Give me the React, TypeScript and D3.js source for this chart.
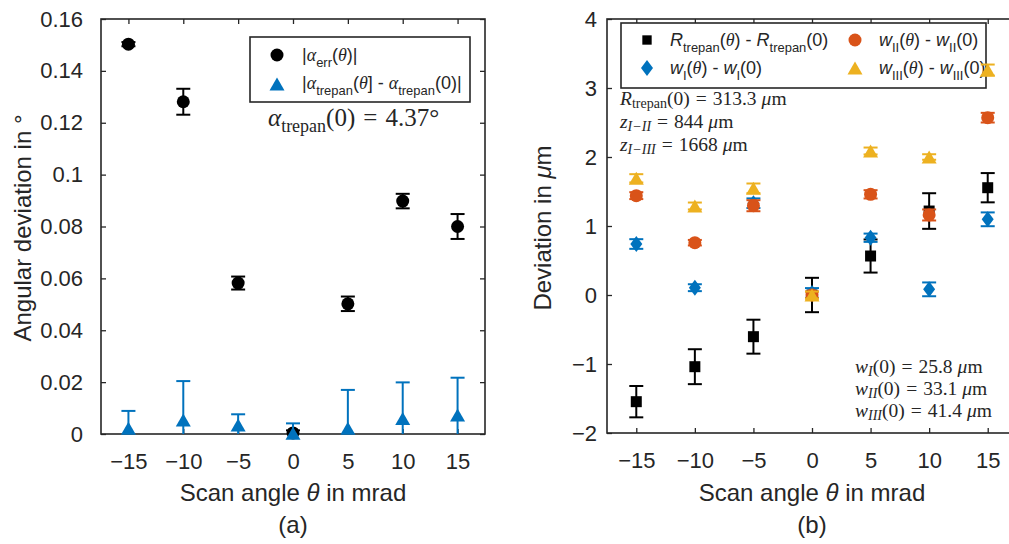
import React, { useEffect, useRef } from 'react';
import * as d3 from 'd3';

// shared x values (scan angle in mrad)
const scanAngles = [-15, -10, -5, 0, 5, 10, 15];
const xTickLabels = ['−15', '−10', '−5', '0', '5', '10', '15'];

// panel (a): angular deviation in degrees
const alphaErr = [0.1503, 0.1281, 0.0582, 0.0004, 0.0502, 0.0898, 0.08];
const alphaErrSd = [0.0008, 0.005, 0.0025, 0.001, 0.0028, 0.0028, 0.0048];
const alphaTrepan = [0.0022, 0.0054, 0.0035, 0.0003, 0.0022, 0.006, 0.0073];
const alphaTrepanSd = [0.0067, 0.015, 0.0041, 0.0038, 0.0148, 0.0139, 0.0144];
const yTicksA = [0, 0.02, 0.04, 0.06, 0.08, 0.1, 0.12, 0.14, 0.16];
const yTickLabelsA = ['0', '0.02', '0.04', '0.06', '0.08', '0.1', '0.12', '0.14', '0.16'];

// panel (b): deviation in µm
const rTrepan = [-1.546, -1.039, -0.604, 0.0, 0.565, 1.217, 1.555];
const rTrepanSd = [0.227, 0.253, 0.246, 0.249, 0.24, 0.258, 0.212];
const wI = [0.739, 0.106, 1.33, 0.03, 0.83, 0.082, 1.097];
const wISd = [0.07, 0.05, 0.07, 0.07, 0.06, 0.1, 0.1];
const wII = [1.44, 0.758, 1.294, 0.0, 1.459, 1.16, 2.57];
const wIISd = [0.05, 0.04, 0.08, 0.05, 0.06, 0.08, 0.07];
const wIII = [1.691, 1.29, 1.546, 0.0, 2.087, 2.0, 3.26];
const wIIISd = [0.06, 0.05, 0.07, 0.05, 0.05, 0.04, 0.08];
const yTicksB = [-2, -1, 0, 1, 2, 3, 4];
const yTickLabelsB = ['−2', '−1', '0', '1', '2', '3', '4'];

const INK = '#262626';
const BLUE = '#0072BD';
const ORANGE = '#D95319';
const YELLOW = '#EDB120';
const SANS = 'Liberation Sans, Arial, sans-serif';
const SERIF = 'Liberation Serif, Times New Roman, serif';

type Part = { t: string; s?: 'sub' | 'sup'; i?: boolean; f?: string; dx?: number };

function rich(sel: any, x: number, y: number, parts: Part[], size: number, family: string, anchor = 'start', subShift = 0.32) {
  const t = sel.append('text')
    .attr('x', x).attr('y', y)
    .attr('font-size', size).attr('font-family', family)
    .attr('fill', INK).attr('text-anchor', anchor)
    .style('white-space', 'pre');
  let shift = 0;
  parts.forEach((p) => {
    const target = p.s === 'sub' ? size * subShift : p.s === 'sup' ? -size * 0.4 : 0;
    const sp = t.append('tspan').attr('dy', target - shift).text(p.t);
    if (p.dx) sp.attr('dx', p.dx);
    if (p.s) sp.attr('font-size', size * 0.72);
    if (p.i) sp.attr('font-style', 'italic');
    if (p.f) sp.attr('font-family', p.f);
    shift = target;
  });
  return t;
}

const markers: Record<string, string> = {
  circle: d3.symbol(d3.symbolCircle, Math.PI * 6.5 * 6.5)() as string,
  square: d3.symbol(d3.symbolSquare, 11 * 11)() as string,
  diamond: 'M0,-8L6,0L0,8L-6,0Z',
  triangle: 'M0,-6.5L7.5,6.5L-7.5,6.5Z',
};

export default function App() {
  const ref = useRef<SVGSVGElement>(null);

  useEffect(() => {
    const svg = d3.select(ref.current);
    svg.selectAll('*').remove();

    const drawPanel = (x: any, y: any, yTicks: number[], yLabels: string[], id: string, yPad: number) => {
      const [x0, x1] = x.range();
      const [y0, y1] = y.range();
      const g = svg.append('g');

      g.append('clipPath').attr('id', id).append('rect')
        .attr('x', x0).attr('y', y1).attr('width', x1 - x0).attr('height', y0 - y1);

      const style = (s: any) => {
        s.select('.domain').remove();
        s.selectAll('line').attr('stroke', INK).attr('stroke-width', 1.3);
        s.selectAll('text').attr('font-size', 22).attr('font-family', SANS).attr('fill', INK);
      };

      g.append('g').attr('transform', `translate(0,${y0})`)
        .call(d3.axisBottom(x).tickValues(scanAngles).tickSize(-5).tickPadding(19)
          .tickFormat((_d: any, i: number) => xTickLabels[i]))
        .call(style);
      g.append('g').attr('transform', `translate(0,${y1})`)
        .call(d3.axisTop(x).tickValues(scanAngles).tickSize(-5).tickFormat(() => ''))
        .call(style);
      g.append('g').attr('transform', `translate(${x0},0)`)
        .call(d3.axisLeft(y).tickValues(yTicks).tickSize(-5).tickPadding(yPad)
          .tickFormat((_d: any, i: number) => yLabels[i]))
        .call(style);
      g.append('g').attr('transform', `translate(${x1},0)`)
        .call(d3.axisRight(y).tickValues(yTicks).tickSize(-5).tickFormat(() => ''))
        .call(style);

      g.append('rect')
        .attr('x', x0).attr('y', y1).attr('width', x1 - x0).attr('height', y0 - y1)
        .attr('fill', 'none').attr('stroke', INK).attr('stroke-width', 1.6);

      rich(g, (x0 + x1) / 2, 501, [{ t: 'Scan angle ' }, { t: 'θ', i: true }, { t: ' in mrad' }], 24, SANS, 'middle');
      return g;
    };

    const series = (g: any, x: any, y: any, vals: number[], sds: number[], color: string, shape: string, clipId: string) => {
      const bars = g.append('g').attr('clip-path', `url(#${clipId})`)
        .attr('stroke', color).attr('stroke-width', 2).attr('fill', 'none');
      scanAngles.forEach((a, i) => {
        const cx = x(a);
        const top = y(vals[i] + sds[i]);
        const bot = y(vals[i] - sds[i]);
        bars.append('line').attr('x1', cx).attr('x2', cx).attr('y1', top).attr('y2', bot);
        bars.append('line').attr('x1', cx - 7).attr('x2', cx + 7).attr('y1', top).attr('y2', top);
        bars.append('line').attr('x1', cx - 7).attr('x2', cx + 7).attr('y1', bot).attr('y2', bot);
      });
      g.append('g').selectAll('path').data(vals).enter().append('path')
        .attr('d', markers[shape])
        .attr('transform', (d: number, i: number) => `translate(${x(scanAngles[i])},${y(d)})`)
        .attr('fill', color);
    };

    // ---------- panel (a)
    const xa = d3.scaleLinear().domain([-17.5, 17.5]).range([101, 485]);
    const ya = d3.scaleLinear().domain([0, 0.16]).range([434, 19]);
    const ga = drawPanel(xa, ya, yTicksA, yTickLabelsA, 'clipA', 18);
    ga.append('text').attr('transform', 'translate(31,228) rotate(-90)')
      .attr('text-anchor', 'middle').attr('font-size', 24).attr('font-family', SANS)
      .attr('fill', INK).text('Angular deviation in °');
    ga.append('text').attr('x', 293).attr('y', 533).attr('text-anchor', 'middle')
      .attr('font-size', 24).attr('font-family', SANS).attr('fill', INK).text('(a)');

    // legend (a)
    const la = ga.append('g');
    la.append('rect').attr('x', 250).attr('y', 37).attr('width', 220).attr('height', 65)
      .attr('fill', 'white').attr('stroke', INK).attr('stroke-width', 1.6);
    la.append('path').attr('d', markers.circle).attr('transform', 'translate(277,55)').attr('fill', 'black');
    la.append('path').attr('d', markers.triangle).attr('transform', 'translate(277,84)').attr('fill', BLUE);
    rich(la, 302, 61, [
      { t: '|' }, { t: 'α', i: true, f: SERIF }, { t: 'err', s: 'sub' }, { t: '(' }, { t: 'θ', i: true, f: SERIF }, { t: ')|' },
    ], 18, SANS);
    rich(la, 302, 89, [
      { t: '|' }, { t: 'α', i: true, f: SERIF }, { t: 'trepan', s: 'sub' }, { t: '(' }, { t: 'θ', i: true, f: SERIF },
      { t: '] - ' }, { t: 'α', i: true, f: SERIF }, { t: 'trepan', s: 'sub' }, { t: '(0)|' },
    ], 18, SANS);
    rich(ga, 268, 126, [
      { t: 'α', i: true }, { t: 'trepan', s: 'sub' }, { t: '(0)' }, { t: '=', dx: 8 }, { t: '4.37°', dx: 8 },
    ], 25, SERIF, 'start', 0.25);

    series(ga, xa, ya, alphaErr, alphaErrSd, 'black', 'circle', 'clipA');
    series(ga, xa, ya, alphaTrepan, alphaTrepanSd, BLUE, 'triangle', 'clipA');

    // ---------- panel (b)
    const xb = d3.scaleLinear().domain([-17.5, 17.5]).range([607, 1017]);
    const yb = d3.scaleLinear().domain([-2, 4]).range([433, 19]);
    const gb = drawPanel(xb, yb, yTicksB, yTickLabelsB, 'clipB', 10);
    const yl = gb.append('text').attr('transform', 'translate(551,228) rotate(-90)')
      .attr('text-anchor', 'middle').attr('font-size', 24).attr('font-family', SANS)
      .attr('fill', INK).style('white-space', 'pre');
    yl.append('tspan').text('Deviation in ');
    yl.append('tspan').attr('font-style', 'italic').text('μ');
    yl.append('tspan').text('m');
    gb.append('text').attr('x', 812).attr('y', 533).attr('text-anchor', 'middle')
      .attr('font-size', 24).attr('font-family', SANS).attr('fill', INK).text('(b)');

    // legend (b)
    const lb = gb.append('g');
    lb.append('rect').attr('x', 621).attr('y', 23).attr('width', 365).attr('height', 65)
      .attr('fill', 'white').attr('stroke', INK).attr('stroke-width', 1.6);
    lb.append('path').attr('d', markers.square).attr('transform', 'translate(647,40) scale(0.85)').attr('fill', 'black');
    lb.append('path').attr('d', markers.diamond).attr('transform', 'translate(647,68)').attr('fill', BLUE);
    lb.append('path').attr('d', markers.circle).attr('transform', 'translate(855,40)').attr('fill', ORANGE);
    lb.append('path').attr('d', markers.triangle).attr('transform', 'translate(855,68)').attr('fill', YELLOW);
    const wEntry = (sub: string): Part[] => [
      { t: 'w', i: true }, { t: sub, s: 'sub' }, { t: '(' }, { t: 'θ', i: true, f: SERIF }, { t: ') - ' },
      { t: 'w', i: true }, { t: sub, s: 'sub' }, { t: '(0)' },
    ];
    rich(lb, 670, 46, [
      { t: 'R', i: true }, { t: 'trepan', s: 'sub' }, { t: '(' }, { t: 'θ', i: true, f: SERIF }, { t: ') - ' },
      { t: 'R', i: true }, { t: 'trepan', s: 'sub' }, { t: '(0)' },
    ], 18, SANS);
    rich(lb, 670, 74, wEntry('I'), 18, SANS);
    rich(lb, 879, 46, wEntry('II'), 18, SANS);
    rich(lb, 879, 74, wEntry('III'), 18, SANS);

    // annotations (b)
    const eq = (rhs: string): Part[] => [{ t: '=', dx: 6 }, { t: rhs, dx: 6 }, { t: 'μ', i: true, dx: 5 }, { t: 'm' }];
    const ann = (y: number, parts: Part[], x = 620) => rich(gb, x, y, parts, 19.5, SERIF, 'start', 0.15);
    ann(105, [{ t: 'R', i: true }, { t: 'trepan', s: 'sub' }, { t: '(0)' }, ...eq('313.3')]);
    ann(128, [{ t: 'z', i: true }, { t: 'I−II', s: 'sub', i: true }, ...eq('844')]);
    ann(151, [{ t: 'z', i: true }, { t: 'I−III', s: 'sub', i: true }, ...eq('1668')]);
    ann(373, [{ t: 'w', i: true }, { t: 'I', s: 'sub', i: true }, { t: '(0)' }, ...eq('25.8')], 855);
    ann(395, [{ t: 'w', i: true }, { t: 'II', s: 'sub', i: true }, { t: '(0)' }, ...eq('33.1')], 855);
    ann(417, [{ t: 'w', i: true }, { t: 'III', s: 'sub', i: true }, { t: '(0)' }, ...eq('41.4')], 855);

    series(gb, xb, yb, rTrepan, rTrepanSd, 'black', 'square', 'clipB');
    series(gb, xb, yb, wI, wISd, BLUE, 'diamond', 'clipB');
    series(gb, xb, yb, wII, wIISd, ORANGE, 'circle', 'clipB');
    series(gb, xb, yb, wIII, wIIISd, YELLOW, 'triangle', 'clipB');
  }, []);

  return (
    <svg ref={ref} width={1009} height={544}
      style={{ position: 'absolute', left: 0, top: 0, background: 'white' }} />
  );
}
